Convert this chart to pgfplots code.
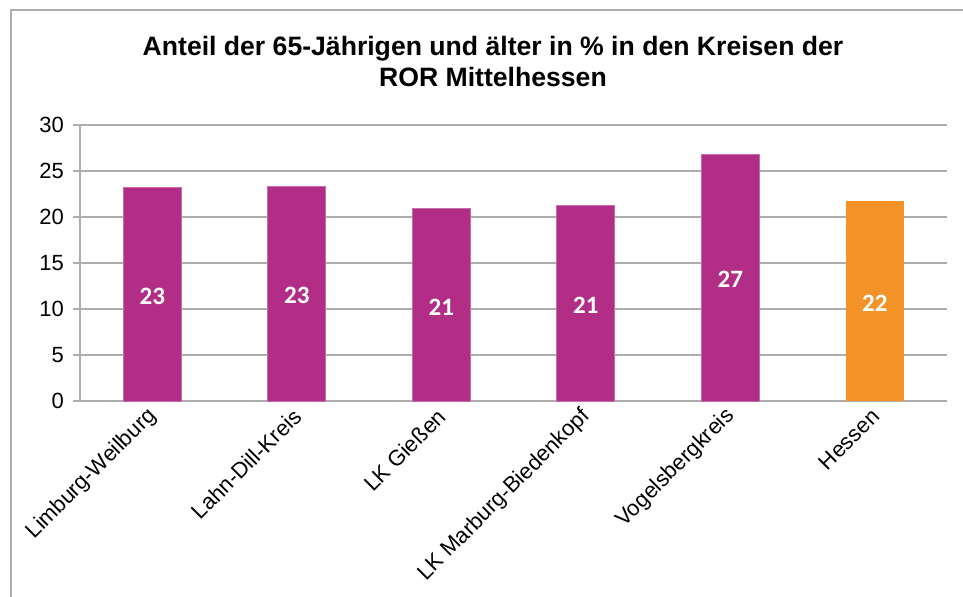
\documentclass[border=0pt]{standalone}
\usepackage{pgfplots}
\pgfplotsset{compat=1.18}
\usepackage{fontspec}
\setmainfont{Liberation Sans}
\newfontfamily\calfont{Carlito}
\definecolor{barmag}{HTML}{B12D86}
\definecolor{barorg}{HTML}{F29227}
\definecolor{gridgray}{HTML}{ADADAD}
\begin{document}
\begin{tikzpicture}
\useasboundingbox (0pt,0pt) rectangle (481.5pt,298.5pt);
\draw[gridgray, line width=0.6pt] (5.5pt,0pt) -- (5.5pt,293.5pt) -- (481.5pt,293.5pt);
\node[align=center, font=\fontsize{13.3}{15.5}\selectfont\bfseries] at (246.5pt,267.5pt)
  {Anteil der 65-Jährigen und älter in \% in den Kreisen der\\ROR Mittelhessen};
\begin{axis}[
  at={(40pt,98pt)}, anchor=south west,
  scale only axis, width=433.5pt, height=138pt,
  xmin=-0.5, xmax=5.5, ymin=0, ymax=30,
  ytick={0,5,...,30},
  xtick={0,...,5},
  xticklabels={Limburg-Weilburg,Lahn-Dill-Kreis,LK Gießen,LK Marburg-Biedenkopf,Vogelsbergkreis,Hessen},
  minor xtick={-0.5,0.5,...,5.5},
  axis x line*=bottom, axis y line*=left,
  axis line style={gridgray, line width=0.75pt},
  x axis line style={-}, y axis line style={-},
  ymajorgrids, grid style={gridgray, line width=0.75pt},
  major tick length=3.5pt, minor tick length=3pt,
  tick align=outside,
  every tick/.style={gridgray, line width=0.75pt},
  xtick style={draw=none},
  minor x tick style={gridgray, line width=0.75pt},
  tick label style={font=\fontsize{11}{13}\selectfont},
  /pgf/number format/assume math mode=true,
  x tick label style={rotate=45, anchor=east, xshift=2pt, yshift=-2pt},
  yticklabel style={xshift=-1pt},
  bar width=0.4,
  visualization depends on=y \as \rawy,
  nodes near coords,
  nodes near coords style={font=\calfont\bfseries\fontsize{12.5}{14}\selectfont, text=white, anchor=center,
    shift={(axis direction cs:0,-0.5*\rawy)}, yshift=-1pt},
  point meta=y,
  every node near coord/.append style={/pgf/number format/.cd, fixed, precision=0},
  clip=false,
]
\addplot[ybar, fill=barmag, draw=barmag!70!white] coordinates {(0,23.2) (1,23.3) (2,20.9) (3,21.3) (4,26.8)};
\addplot[ybar, fill=barorg, draw=none] coordinates {(5,21.7)};
\end{axis}
\end{tikzpicture}
\end{document}
